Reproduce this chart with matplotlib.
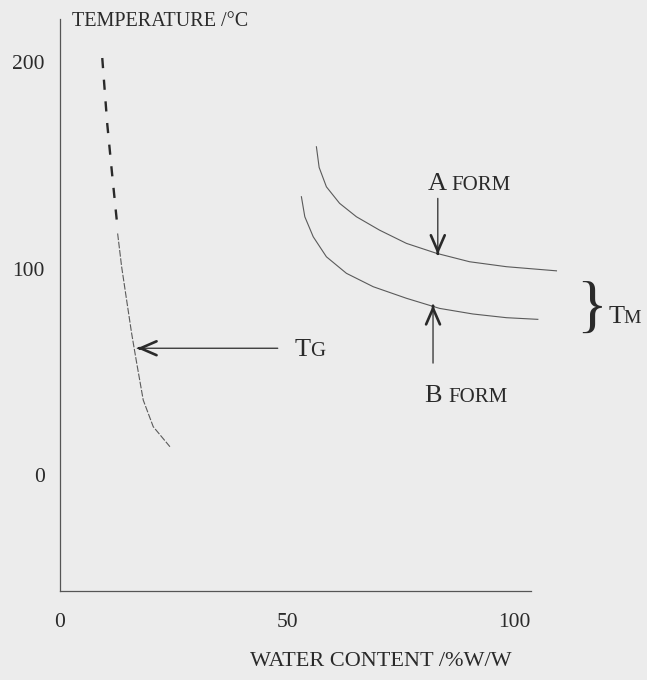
import matplotlib.pyplot as plt
import matplotlib.transforms as mtransforms

# Tg curve (glass transition)
tg_dash_x = [9.3, 10.4, 11.5, 12.6]
tg_dash_y = [202.0, 170.0, 145.0, 121.0]
tg_x = [12.68, 13.56, 14.66, 15.76, 16.86, 18.31, 20.51, 24.18]
tg_y = [117.0, 100.9, 84.7, 68.6, 54.4, 36.3, 23.4, 13.7]

# melting curves of the two forms
a_x = [56.4, 57.0, 58.6, 61.5, 65.2, 70.3, 76.2, 82.8, 90.1, 98.2, 109.2]
a_y = [159.0, 149.0, 139.6, 131.6, 125.1, 118.6, 112.2, 107.4, 103.3, 100.9, 98.9]
b_x = [53.1, 53.85, 55.7, 58.6, 63.0, 68.9, 76.2, 83.5, 90.8, 98.2, 105.1]
b_y = [134.8, 125.1, 115.4, 105.7, 97.7, 91.2, 85.6, 80.7, 78.0, 76.2, 75.4]

xticks = [0, 50, 100]
yticks = [0, 100, 200]

bg = '#ececec'
ink = '#2a2a2a'
line = '#5a5a5a'
plt.rcParams['font.family'] = ['Liberation Serif', 'DejaVu Serif']

fig = plt.figure(figsize=(6.47, 6.8), dpi=100, facecolor=bg)
ax = fig.add_axes([0.0927, 0.1315, 0.773, 0.853], facecolor=bg)
ax.set_xlim(0, 110)
ax.set_ylim(-56, 225)

ax.plot(tg_dash_x, tg_dash_y, color=ink, lw=1.7, linestyle=(0, (4.3, 4.9)))
ax.plot(tg_x, tg_y, color=line, lw=0.8, linestyle=(0, (6, 1.5)))
ax.plot(a_x, a_y, color=line, lw=0.8)
ax.plot(b_x, b_y, color=line, lw=0.8)


def arrow(tip, tail):
    # thin shaft, heavier open head
    ax.annotate('', xy=tip, xytext=tail,
                arrowprops=dict(arrowstyle='-', color=ink, lw=0.9, shrinkA=0, shrinkB=0))
    dx, dy = tail[0] - tip[0], tail[1] - tip[1]
    near = (tip[0] + dx * 0.02, tip[1] + dy * 0.02)
    ax.annotate('', xy=tip, xytext=near,
                arrowprops=dict(arrowstyle='->, head_length=1.15, head_width=0.5',
                                color=ink, lw=1.9, shrinkA=0, shrinkB=0))


arrow((17.0, 61.4), (47.9, 61.4))
arrow((83.1, 106.8), (83.1, 134.0))
arrow((82.05, 82.3), (82.05, 54.2))


def small_caps(x, y, big, small, gap, clip=True, fs_small=15):
    ax.text(x, y, big, fontsize=19, color=ink, va='baseline', ha='left', clip_on=clip)
    tr = mtransforms.offset_copy(ax.transData, fig=fig, x=gap, y=0, units='points')
    ax.text(x, y, small, fontsize=fs_small, color=ink, va='baseline', ha='left',
            transform=tr, clip_on=clip)


small_caps(80.8, 138.0, 'A', 'FORM', 17)
small_caps(80.2, 35.5, 'B', 'FORM', 17)
small_caps(51.6, 57.5, 'T', 'G', 11.5)

ax.text(117.0, 79.6, '}', fontsize=46, color=ink, va='center', ha='center', clip_on=False)
small_caps(120.6, 73.5, 'T', 'M', 11.0, clip=False, fs_small=14)

for s in ['top', 'right']:
    ax.spines[s].set_visible(False)
ax.spines['left'].set_bounds(-56, 221)
ax.spines['bottom'].set_bounds(0, 103.7)
for s in ['left', 'bottom']:
    ax.spines[s].set_color('#555555')
    ax.spines[s].set_linewidth(0.9)

ax.set_xticks(xticks)
ax.set_yticks(yticks)
ax.tick_params(length=0, labelsize=15.5, colors=ink)
ax.tick_params(axis='x', pad=16)
ax.tick_params(axis='y', pad=11)

fig.text(72 / 647, 1 - 21 / 680, 'TEMPERATURE /°C', fontsize=14.5, color=ink,
         ha='left', va='center')
fig.text(381 / 647, 1 - 662 / 680, 'WATER CONTENT /%W/W', fontsize=16, color=ink,
         ha='center', va='center')

fig.savefig('out.png', dpi=100, facecolor=bg)
